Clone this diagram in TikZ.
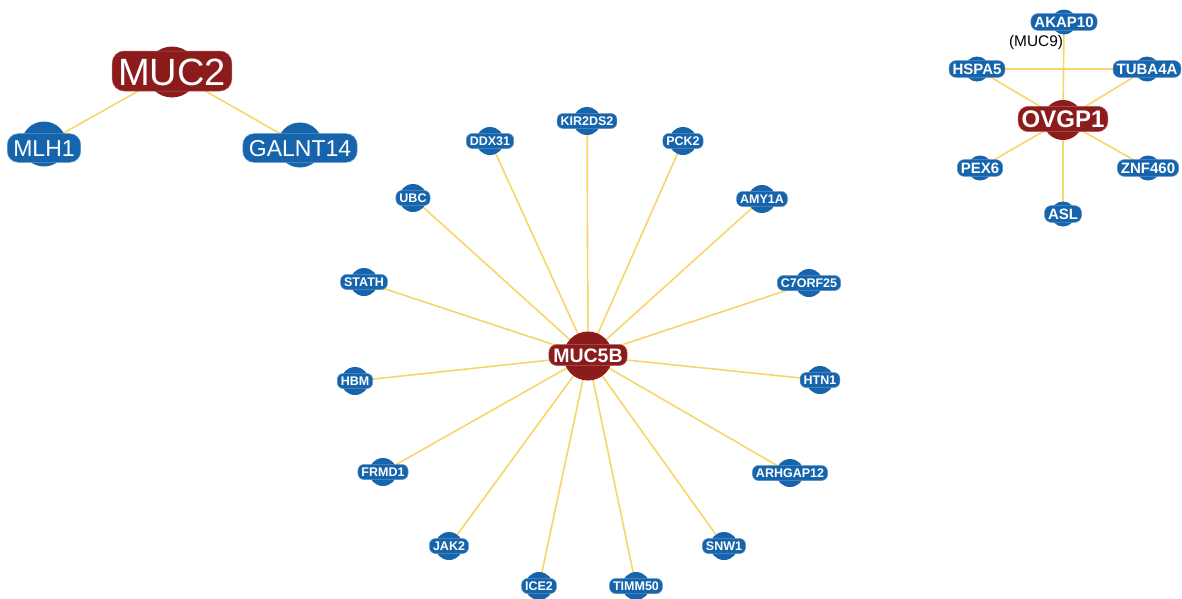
\documentclass[tikz,border=0pt]{standalone}
\usepackage{fontspec}
\setmainfont{Liberation Sans}
\usetikzlibrary{backgrounds}
\definecolor{hubred}{RGB}{140,27,27}
\definecolor{nodeblue}{RGB}{22,100,172}
\definecolor{edgeyellow}{RGB}{246,214,104}
\tikzset{
  edge/.style={draw=edgeyellow, line width=1.6pt},
  redc/.style={circle, fill=hubred, inner sep=0pt},
  bluec/.style={circle, fill=nodeblue, inner sep=0pt},
  redl/.style={fill=hubred, draw=hubred!70!white, line width=0.5pt, text=white, rounded corners=7pt, text depth=0pt},
  bluel/.style={fill=nodeblue, draw=nodeblue!70!white, line width=0.5pt, text=white, rounded corners=6pt, text depth=0pt},
  bigred/.style={redl, font=\fontsize{38}{40}\selectfont, text height=28pt, inner xsep=6pt, inner ysep=6pt, rounded corners=12pt},
  bigblue/.style={bluel, font=\fontsize{23}{25}\selectfont, text height=16.6pt, inner xsep=6pt, inner ysep=6pt, rounded corners=11pt},
  midred/.style={redl, font=\bfseries\fontsize{19.5}{21}\selectfont, text height=14pt, inner xsep=4.5pt, inner ysep=3.5pt, rounded corners=8pt},
  ovred/.style={redl, font=\bfseries\fontsize{24}{26}\selectfont, text height=17.3pt, inner xsep=3.5pt, inner ysep=4pt, rounded corners=10pt},
  smallblue/.style={bluel, font=\bfseries\fontsize{12.5}{14}\selectfont, text height=9pt, inner xsep=3.5pt, inner ysep=3pt},
  clblue/.style={bluel, font=\bfseries\fontsize{15}{17}\selectfont, text height=10.8pt, inner xsep=3.5pt, inner ysep=3pt, rounded corners=7pt},
}
% name, x, y, label, label style, circle style, circle diameter, circle y offset
\newcommand{\gnode}[8]{%
  \node[#6, minimum size=#7pt] (#1c) at (#2,#3+#8) {};
  \node[#5] (#1) at (#2,#3) {#4};
}
\begin{document}
\begin{tikzpicture}[x=1pt,y=-1pt]
\useasboundingbox (0,0) rectangle (1182,598);
% MUC2 cluster
\gnode{muctwo}{172}{71}{MUC2}{bigred}{redc}{51}{1}
\gnode{mlh}{44}{148}{MLH1}{bigblue}{bluec}{45}{-4}
\gnode{galnt}{300}{148}{GALNT14}{bigblue}{bluec}{45}{-3}
% MUC5B star
\gnode{mucfb}{588}{355}{MUC5B}{midred}{redc}{49}{1}
\gnode{kir}{587}{121}{KIR2DS2}{smallblue}{bluec}{28}{0}
\gnode{ddx}{490}{141}{DDX31}{smallblue}{bluec}{28}{0}
\gnode{pck}{683}{141}{PCK2}{smallblue}{bluec}{28}{0}
\gnode{ubc}{413}{198}{UBC}{smallblue}{bluec}{28}{0}
\gnode{amy}{762}{199}{AMY1A}{smallblue}{bluec}{28}{0}
\gnode{stath}{364}{282}{STATH}{smallblue}{bluec}{28}{0}
\gnode{corf}{809}{283}{C7ORF25}{smallblue}{bluec}{28}{0}
\gnode{hbm}{355}{381}{HBM}{smallblue}{bluec}{28}{0}
\gnode{htn}{820}{380}{HTN1}{smallblue}{bluec}{28}{0}
\gnode{frmd}{383}{472}{FRMD1}{smallblue}{bluec}{28}{0}
\gnode{arh}{790}{473}{ARHGAP12}{smallblue}{bluec}{28}{0}
\gnode{jak}{449}{546}{JAK2}{smallblue}{bluec}{28}{0}
\gnode{snw}{724}{546}{SNW1}{smallblue}{bluec}{28}{0}
\gnode{ice}{539}{586}{ICE2}{smallblue}{bluec}{28}{0}
\gnode{timm}{636}{586}{TIMM50}{smallblue}{bluec}{28}{0}
% OVGP1 cluster
\gnode{ovgp}{1063}{119}{OVGP1}{ovred}{redc}{40}{1}
\gnode{akap}{1064}{22}{AKAP10}{clblue}{bluec}{25}{0}
\gnode{hspa}{977}{69}{HSPA5}{clblue}{bluec}{25}{0}
\gnode{tuba}{1147}{69}{TUBA4A}{clblue}{bluec}{25}{0}
\gnode{pex}{980}{168}{PEX6}{clblue}{bluec}{25}{0}
\gnode{znf}{1148}{168}{ZNF460}{clblue}{bluec}{25}{0}
\gnode{asl}{1063}{214}{ASL}{clblue}{bluec}{25}{0}
\node[font=\fontsize{15.4}{17}\selectfont, inner sep=0pt] (mucnine) at (1036,43) {(MUC9)};
\begin{pgfonlayer}{background}
  \draw[edge] (muctwoc.center) -- (mlhc.center);
  \draw[edge] (muctwoc.center) -- (galntc.center);
  \foreach \n in {kir,ddx,pck,ubc,amy,stath,corf,hbm,htn,frmd,arh,jak,snw,ice,timm}
    \draw[edge] (mucfbc.center) -- (\n c.center);
  \foreach \n in {akap,hspa,tuba,pex,znf,asl}
    \draw[edge] (ovgpc.center) -- (\n c.center);
  \draw[edge] (hspac.center) -- (tubac.center);
\end{pgfonlayer}
\end{tikzpicture}
\end{document}
